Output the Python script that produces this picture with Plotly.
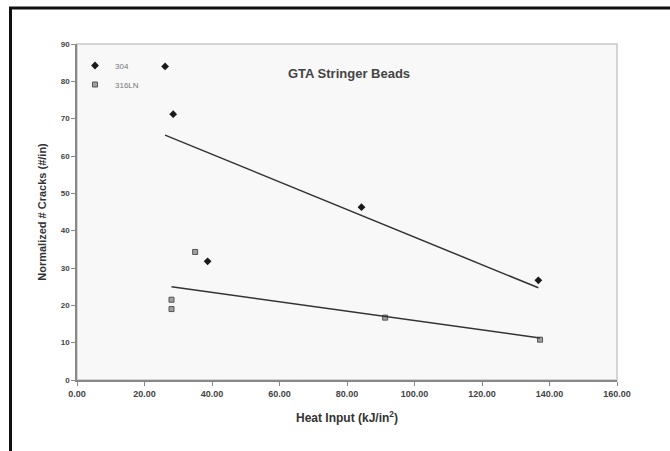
import numpy as np
import plotly.graph_objects as go

# Data
heat_304 = [26.1, 28.5, 38.7, 84.3, 136.7]
cracks_304 = [84.0, 71.2, 31.8, 46.3, 26.7]
heat_316 = [35.0, 28.0, 28.0, 91.3, 137.2]
cracks_316 = [34.3, 21.5, 19.0, 16.7, 10.8]
series_names = ["304", "316LN"]
chart_title = "GTA Stringer Beads"
x_title = "Heat Input (kJ/in<sup>2</sup>)"
y_title = "Normalized # Cracks (#/in)"

W, H = 670, 451
L, R, T, B = 77, 53, 44, 71

def trend(xs, ys):
    k, b = np.polyfit(xs, ys, 1)
    xx = np.array([min(xs), max(xs)])
    return xx, k * xx + b

fig = go.Figure()
fig.add_trace(go.Scatter(x=heat_304, y=cracks_304, mode="markers", name=series_names[0],
                         marker=dict(symbol="diamond", size=6, color="#1a1a1a")))
fig.add_trace(go.Scatter(x=heat_316, y=cracks_316, mode="markers", name=series_names[1],
                         marker=dict(symbol="square", size=5, color="#a0a0a0",
                                     line=dict(color="#555", width=1))))
for xs, ys in ((heat_304, cracks_304), (heat_316, cracks_316)):
    tx, ty = trend(xs, ys)
    fig.add_trace(go.Scatter(x=tx, y=ty, mode="lines", showlegend=False,
                             line=dict(color="#333", width=1.5), hoverinfo="skip"))

pw, ph = W - L - R, H - T - B
def px2paper_x(px):
    return (px - L) / pw
def py2paper_y(py):
    return (H - B - py) / ph

fig.add_shape(type="rect", xref="paper", yref="paper",
              x0=px2paper_x(10.5), x1=px2paper_x(720), y0=py2paper_y(8), y1=py2paper_y(520),
              line=dict(color="#111", width=3), fillcolor="rgba(0,0,0,0)", layer="above")

fig.add_annotation(text="<b>" + chart_title + "</b>", xref="paper", yref="paper",
                   x=px2paper_x(349), y=py2paper_y(73), xanchor="center", yanchor="middle",
                   showarrow=False, font=dict(size=13, color="#444"))

x_tick_font = dict(family="Liberation Sans, Arial", size=9, color="#444", weight="bold")
y_tick_font = dict(family="Liberation Sans, Arial", size=8, color="#444", weight="bold")
fig.update_layout(
    width=W, height=H,
    margin=dict(l=L, r=R, t=T, b=B),
    paper_bgcolor="white", plot_bgcolor="#f8f8f8",
    font=dict(family="Liberation Sans, Arial", color="#333"),
    showlegend=True,
    legend=dict(x=px2paper_x(75), y=py2paper_y(51), xanchor="left", yanchor="top",
                bgcolor="rgba(0,0,0,0)", font=dict(size=8, color="#777"),
                itemwidth=30, tracegroupgap=0),
    xaxis=dict(range=[0, 160], tickvals=list(range(0, 161, 20)), tickformat=".2f",
               showgrid=False, zeroline=False, showline=True, linecolor="#888", linewidth=1.5,
               mirror=False, ticks="outside", ticklen=4, tickcolor="#888",
               tickfont=x_tick_font,
               title=dict(text="<b>" + x_title + "</b>", font=dict(size=12, color="#333"), standoff=16)),
    yaxis=dict(range=[0, 90], tickvals=list(range(0, 91, 10)),
               showgrid=False, zeroline=False, showline=True, linecolor="#888", linewidth=1.5,
               ticks="outside", ticklen=4, tickcolor="#888",
               tickfont=y_tick_font,
               title=dict(text="<b>" + y_title + "</b>", font=dict(size=11, color="#333"), standoff=12)),
)
fig.add_shape(type="rect", xref="paper", yref="paper", x0=0, x1=1, y0=0, y1=1,
              line=dict(color="#c8c8c8", width=1.5), fillcolor="rgba(0,0,0,0)", layer="below")

fig.write_html("out.html", config={"displayModeBar": False},
               post_script="document.body.style.margin='0';")
